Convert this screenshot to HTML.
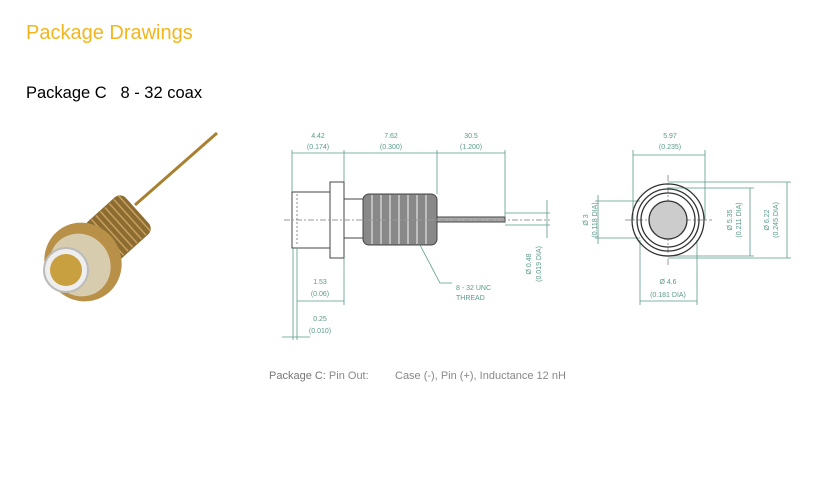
<!DOCTYPE html>
<html><head><meta charset="utf-8"><style>
body{margin:0;width:816px;height:492px;background:#fff;overflow:hidden;font-family:"Liberation Sans",sans-serif;position:relative}
.t{position:absolute;white-space:nowrap}
</style></head><body>
<div class="t" style="left:26px;top:22px;font-size:20px;color:#f2b51c">Package Drawings</div>
<div class="t" style="left:26px;top:84px;font-size:16.5px;color:#000">Package C&nbsp;&nbsp;&nbsp;8 - 32 coax</div>
<div class="t" style="left:269px;top:370px;font-size:11px;color:#888"><b style="font-weight:normal;color:#777">Package C:</b> Pin Out:</div>
<div class="t" style="left:395px;top:370px;font-size:11px;color:#888">Case (-), Pin (+), Inductance 12 nH</div>
<svg width="816" height="492" style="position:absolute;left:0;top:0" font-family="Liberation Sans" font-size="7" fill="#5a9a8a">
<!-- photo -->
<line x1="135" y1="205" x2="217" y2="133" stroke="#a88030" stroke-width="3"/>
<g transform="rotate(-42 118 228)">
<rect x="92" y="203" width="52" height="50" rx="8" fill="#8c6c30"/>
<g stroke="#c8a060" stroke-width="1.5">
<line x1="98" y1="204" x2="98" y2="252"/><line x1="104" y1="204" x2="104" y2="252"/><line x1="110" y1="204" x2="110" y2="252"/><line x1="116" y1="204" x2="116" y2="252"/><line x1="122" y1="204" x2="122" y2="252"/><line x1="128" y1="204" x2="128" y2="252"/><line x1="134" y1="204" x2="134" y2="252"/><line x1="140" y1="204" x2="140" y2="252"/></g>
</g>
<ellipse cx="83" cy="262" rx="38" ry="40" fill="#b89048" transform="rotate(-35 83 262)"/>
<ellipse cx="80" cy="265" rx="30" ry="32" fill="#d8ccae" transform="rotate(-35 80 265)"/>
<circle cx="66" cy="270" r="22" fill="#eee" stroke="#bbb" stroke-width="2"/>
<circle cx="66" cy="270" r="16" fill="#c9a040"/>
<!-- side view -->
<g stroke="#444" stroke-width="1" fill="#fff">
<rect x="292" y="192" width="38" height="56"/>
<rect x="330" y="182" width="14" height="76"/>
<rect x="344" y="199" width="19" height="39"/>
<rect x="363" y="194" width="74" height="51" rx="6" fill="#888"/>
<rect x="437" y="217" width="68" height="5" fill="#aaa"/>
</g>
<g stroke="#ccc" stroke-width="1.6">
<line x1="372" y1="195" x2="372" y2="244"/><line x1="381" y1="195" x2="381" y2="244"/><line x1="390" y1="195" x2="390" y2="244"/><line x1="399" y1="195" x2="399" y2="244"/><line x1="408" y1="195" x2="408" y2="244"/><line x1="417" y1="195" x2="417" y2="244"/><line x1="426" y1="195" x2="426" y2="244"/></g>
<line x1="284" y1="220" x2="550" y2="220" stroke="#999" stroke-dasharray="6 2 2 2"/>
<line x1="297" y1="194" x2="297" y2="246" stroke="#888" stroke-dasharray="2 2"/>
<g stroke="#5a9a8a" stroke-width="0.8">
<line x1="292" y1="150" x2="292" y2="192"/><line x1="344" y1="150" x2="344" y2="182"/><line x1="437" y1="150" x2="437" y2="194"/><line x1="505" y1="150" x2="505" y2="217"/>
<line x1="292" y1="153" x2="505" y2="153"/>
<line x1="505" y1="213" x2="550" y2="213"/><line x1="505" y1="225" x2="550" y2="225"/><line x1="547" y1="200" x2="547" y2="238"/>
<line x1="297" y1="248" x2="297" y2="340"/><line x1="293" y1="248" x2="293" y2="340"/><line x1="344" y1="258" x2="344" y2="305"/>
<line x1="297" y1="301" x2="344" y2="301"/><line x1="282" y1="337" x2="310" y2="337"/>
<polyline points="420,245 440,283 452,283" fill="none"/>
<line x1="633" y1="150" x2="633" y2="220"/><line x1="705" y1="150" x2="705" y2="220"/><line x1="633" y1="155" x2="705" y2="155"/>
<line x1="595" y1="201" x2="640" y2="201"/><line x1="595" y1="238" x2="640" y2="238"/><line x1="598" y1="195" x2="598" y2="244"/>
<line x1="668" y1="188" x2="754" y2="188"/><line x1="668" y1="256" x2="754" y2="256"/><line x1="750" y1="188" x2="750" y2="256"/>
<line x1="668" y1="182" x2="791" y2="182"/><line x1="668" y1="258" x2="791" y2="258"/><line x1="787" y1="182" x2="787" y2="258"/>
<line x1="640" y1="240" x2="640" y2="305"/><line x1="697" y1="240" x2="697" y2="305"/><line x1="640" y1="301" x2="697" y2="301"/>
</g>
<g font-size="7" text-anchor="middle">
<text x="318" y="138">4.42</text><text x="318" y="149">(0.174)</text>
<text x="391" y="138">7.62</text><text x="391" y="149">(0.300)</text>
<text x="471" y="138">30.5</text><text x="471" y="149">(1.200)</text>
<text x="320" y="284">1.53</text><text x="320" y="296">(0.06)</text>
<text x="320" y="321">0.25</text><text x="320" y="333">(0.010)</text>
<text x="670" y="138">5.97</text><text x="670" y="149">(0.235)</text>
<text x="668" y="284">Ø 4.6</text><text x="668" y="297">(0.181 DIA)</text>
<text x="0" y="0" transform="translate(531 264) rotate(-90)">Ø 0.48</text>
<text x="0" y="0" transform="translate(541 264) rotate(-90)">(0.019 DIA)</text>
<text x="0" y="0" transform="translate(588 220) rotate(-90)">Ø 3</text>
<text x="0" y="0" transform="translate(597 220) rotate(-90)">(0.118 DIA)</text>
<text x="0" y="0" transform="translate(732 220) rotate(-90)">Ø 5.35</text>
<text x="0" y="0" transform="translate(741 220) rotate(-90)">(0.211 DIA)</text>
<text x="0" y="0" transform="translate(769 220) rotate(-90)">Ø 6.22</text>
<text x="0" y="0" transform="translate(778 220) rotate(-90)">(0.245 DIA)</text>
</g>
<text x="456" y="290">8 - 32 UNC</text><text x="456" y="300">THREAD</text>
<line x1="625" y1="220" x2="712" y2="220" stroke="#999" stroke-dasharray="6 2 2 2"/>
<line x1="668" y1="175" x2="668" y2="265" stroke="#999" stroke-dasharray="6 2 2 2"/>
<g fill="none" stroke="#333" stroke-width="1.3">
<circle cx="668" cy="220" r="36"/><circle cx="668" cy="220" r="31"/><circle cx="668" cy="220" r="27"/>
<circle cx="668" cy="220" r="19" fill="#ccc"/>
</g>
</svg>
</body></html>
